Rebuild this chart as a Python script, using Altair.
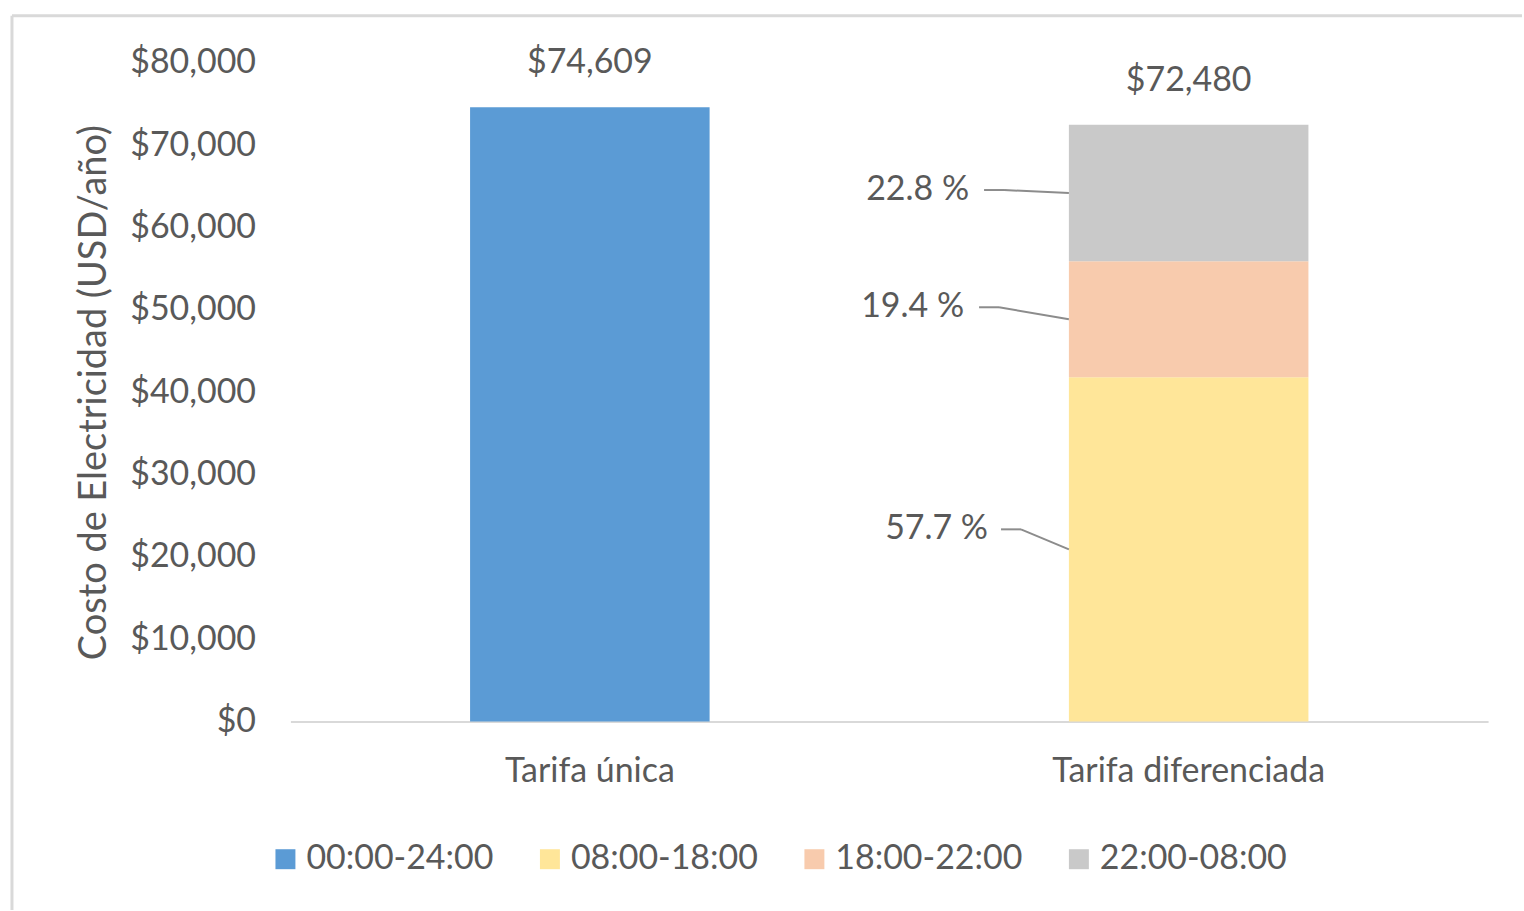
import altair as alt
import pandas as pd

# ---- data ----
categories = ["Tarifa única", "Tarifa diferenciada", "Tarifa diferenciada", "Tarifa diferenciada"]
periods = ["00:00-24:00", "08:00-18:00", "18:00-22:00", "22:00-08:00"]
values = [74609, 41821, 14061, 16598]
pct_periods = ["08:00-18:00", "18:00-22:00", "22:00-08:00"]
pct_labels = ["57.7 %", "19.4 %", "22.8 %"]

period_order = ["00:00-24:00", "08:00-18:00", "18:00-22:00", "22:00-08:00"]
colors = ["#5B9BD5", "#FFE699", "#F8CBAD", "#C9C9C9"]
cat_order = ["Tarifa única", "Tarifa diferenciada"]

FONT = "Lato"
TXT = "#595959"
FS = 34
W, H = 1200, 660
YMAX = 80000

df = pd.DataFrame({"cat": categories, "period": periods, "value": values})
df["ord"] = df["period"].map({p: i for i, p in enumerate(period_order)})

# totals
tot = df.groupby("cat", sort=False)["value"].sum().reset_index()
tot["label"] = tot["value"].map(lambda v: f"${v:,.0f}")

# percent label rows: segment midpoints from stacked values
seg = df[df["cat"] == "Tarifa diferenciada"].sort_values("ord").copy()
seg["bottom"] = seg["value"].cumsum() - seg["value"]
seg["mid"] = seg["bottom"] + seg["value"] / 2
seg = seg.set_index("period")

x_scale = alt.Scale(domain=cat_order, paddingInner=0.6, paddingOuter=0.3)
y_scale = alt.Scale(domain=[0, YMAX])

base = alt.Chart(df)

bars = base.mark_bar(size=240).encode(
    x=alt.X("cat:N", scale=x_scale, sort=cat_order,
            axis=alt.Axis(title=None, labelAngle=0, labelFontSize=FS, labelColor=TXT,
                          labelFont=FONT, labelPadding=33, labelLimit=600, ticks=False,
                          domainColor="#D9D9D9", domainWidth=2)),
    y=alt.Y("value:Q", stack="zero", scale=y_scale,
            axis=alt.Axis(title="Costo de Electricidad (USD/año)", values=list(range(0, 80001, 10000)),
                          format="$,.0f", grid=False, domain=False, ticks=False,
                          labelFontSize=FS, labelColor=TXT, labelFont=FONT, labelPadding=35,
                          titleFontSize=38, titleColor=TXT, titleFont=FONT, titleFontWeight="normal",
                          titlePadding=16)),
    color=alt.Color("period:N", scale=alt.Scale(domain=period_order, range=colors),
                    legend=alt.Legend(title=None, orient="none", legendX=-22, legendY=781,
                                      direction="horizontal", columns=4, symbolType="square",
                                      symbolSize=400, symbolStrokeWidth=0, labelFontSize=FS,
                                      labelFont=FONT, labelColor=TXT, labelOffset=4,
                                      labelLimit=400, columnPadding=39)),
    order=alt.Order("ord:Q"),
)

totals = alt.Chart(tot).mark_text(baseline="bottom", dy=-27, fontSize=FS, font=FONT, color=TXT).encode(
    x=alt.X("cat:N", scale=x_scale, sort=cat_order),
    y=alt.Y("value:Q", scale=y_scale),
    text="label:N",
)

# label placement style (pixels): vertical shift of label vs segment mid, label right end offset,
# leader start offset relative to bar left edge
label_style = {
    "22:00-08:00": {"dy": -3, "text_dx": -100, "lead_dx": -85},
    "18:00-22:00": {"dy": -12, "text_dx": -105, "lead_dx": -90},
    "08:00-18:00": {"dy": -20, "text_dx": -81, "lead_dx": -68},
}
bar_left_px = W / 2 + 180  # band start of second category (paddingInner .6, outer .3)
px_to_val = YMAX / H
LEAD = "#8C8C8C"

layers = [bars, totals]
for p, lab in zip(pct_periods, pct_labels):
    st = label_style[p]
    mid = seg.loc[p, "mid"]
    ly = mid - st["dy"] * px_to_val
    d = pd.DataFrame({"cat": ["Tarifa diferenciada"], "mid": [mid], "ly": [ly], "label": [lab]})
    c = alt.Chart(d)
    txt = c.mark_text(align="right", baseline="middle", dx=st["text_dx"], fontSize=FS,
                      font=FONT, color=TXT).encode(
        x=alt.X("cat:N", scale=x_scale, sort=cat_order, bandPosition=0),
        y=alt.Y("ly:Q", scale=y_scale),
        text="label:N",
    )
    stub = c.mark_rule(color=LEAD, strokeWidth=2).encode(
        x=alt.value(bar_left_px + st["lead_dx"]),
        x2=alt.value(bar_left_px + st["lead_dx"] + 20),
        y=alt.Y("ly:Q", scale=y_scale),
    )
    diag = c.mark_rule(color=LEAD, strokeWidth=2).encode(
        x=alt.X("cat:N", scale=x_scale, sort=cat_order, bandPosition=0),
        x2=alt.value(bar_left_px + st["lead_dx"] + 20),
        y=alt.Y("mid:Q", scale=y_scale),
        y2=alt.Y2("ly:Q"),
    )
    layers += [stub, diag, txt]

# outer chart frame (decorative)
frame_df = pd.DataFrame({"k": [0]})
frame_top = alt.Chart(frame_df).mark_rule(color="#D9D9D9", strokeWidth=3).encode(
    x=alt.value(-279), x2=alt.value(1234), y=alt.value(-47))
frame_left = alt.Chart(frame_df).mark_rule(color="#D9D9D9", strokeWidth=3).encode(
    x=alt.value(-279), y=alt.value(-47), y2=alt.value(849))
layers += [frame_top, frame_left]

chart = alt.layer(*layers).properties(
    width=W, height=H,
    background="white",
    padding={"left": 10, "top": 13, "right": 0, "bottom": 0},
).configure_view(strokeWidth=0)

chart.save("out.html", embed_options={"renderer": "svg", "actions": False})
